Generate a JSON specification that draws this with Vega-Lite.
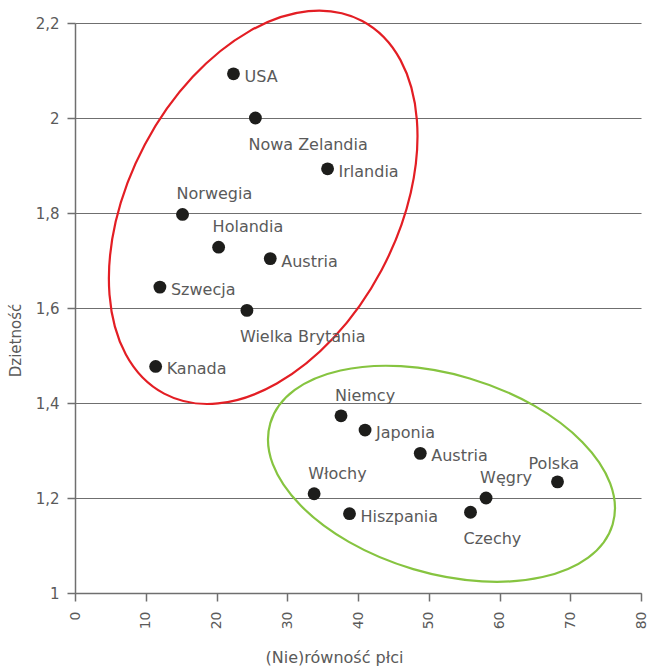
{
  "$schema": "https://vega.github.io/schema/vega-lite/v6.json",
  "width": 566,
  "height": 570,
  "autosize": {"type": "none"},
  "padding": {"left": 75, "top": 23, "right": 6, "bottom": 76},
  "background": "white",
  "config": {
    "view": {"stroke": null},
    "axis": {
      "domainColor": "#6f6f6f", "domainWidth": 1.5,
      "tickColor": "#6f6f6f", "tickWidth": 1.5, "tickSize": 8,
      "gridColor": "#6f6f6f", "gridWidth": 1.2,
      "labelFont": "DejaVu Sans", "labelFontSize": 15, "labelColor": "#5a5a5a",
      "titleFont": "DejaVu Sans", "titleFontSize": 15, "titleFontWeight": "normal", "titleColor": "#5a5a5a"
    }
  },
  "datasets": {
    "points": [
      {"country": "USA", "group": "A", "ineq": 22.4, "fert": 2.093},
      {"country": "Nowa Zelandia", "group": "A", "ineq": 25.5, "fert": 2.0},
      {"country": "Irlandia", "group": "A", "ineq": 35.7, "fert": 1.893},
      {"country": "Norwegia", "group": "A", "ineq": 15.2, "fert": 1.797},
      {"country": "Holandia", "group": "A", "ineq": 20.3, "fert": 1.728},
      {"country": "Austria", "group": "A", "ineq": 27.6, "fert": 1.704},
      {"country": "Szwecja", "group": "A", "ineq": 12.0, "fert": 1.644},
      {"country": "Wielka Brytania", "group": "A", "ineq": 24.3, "fert": 1.595},
      {"country": "Kanada", "group": "A", "ineq": 11.4, "fert": 1.477},
      {"country": "Niemcy", "group": "B", "ineq": 37.6, "fert": 1.373},
      {"country": "Japonia", "group": "B", "ineq": 41.0, "fert": 1.343},
      {"country": "Austria", "group": "B", "ineq": 48.8, "fert": 1.294},
      {"country": "Włochy", "group": "B", "ineq": 33.8, "fert": 1.209},
      {"country": "Hiszpania", "group": "B", "ineq": 38.8, "fert": 1.167},
      {"country": "Czechy", "group": "B", "ineq": 55.9, "fert": 1.170},
      {"country": "Węgry", "group": "B", "ineq": 58.1, "fert": 1.2},
      {"country": "Polska", "group": "B", "ineq": 68.2, "fert": 1.234}
    ],
    "ellipses": [
      {"group": "A", "ineq": 26.6, "fert": 1.812},
      {"group": "B", "ineq": 51.8, "fert": 1.251}
    ]
  },
  "encoding": {
    "x": {
      "field": "ineq", "type": "quantitative",
      "scale": {"domain": [0, 80], "nice": false},
      "axis": {"values": [0, 10, 20, 30, 40, 50, 60, 70, 80], "labelAngle": -90, "labelFontSize": 14, "grid": false, "title": "(Nie)równość płci", "titleFontSize": 16, "titleX": 259, "labelPadding": 10, "titlePadding": 21}
    },
    "y": {
      "field": "fert", "type": "quantitative",
      "scale": {"domain": [1, 2.2], "nice": false, "zero": false},
      "axis": {"values": [1, 1.2, 1.4, 1.6, 1.8, 2, 2.2], "grid": true, "labelExpr": "replace(format(datum.value, '.1~f'), '.', ',')", "title": "Dzietność", "titleY": 317, "labelPadding": 8, "titlePadding": 12}
    }
  },
  "layer": [
    {
      "data": {"name": "ellipses"},
      "transform": [{"filter": "datum.group === 'A'"}],
      "mark": {"type": "point", "filled": false, "color": "#e31e24", "opacity": 1, "strokeWidth": 2.2, "size": 178084, "angle": 28,
        "shape": "M0,-1C0.3507,-1,0.635,-0.5523,0.635,0C0.635,0.5523,0.3507,1,0,1C-0.3507,1,-0.635,0.5523,-0.635,0C-0.635,-0.5523,-0.3507,-1,0,-1Z"}
    },
    {
      "data": {"name": "ellipses"},
      "transform": [{"filter": "datum.group === 'B'"}],
      "mark": {"type": "point", "filled": false, "color": "#86c440", "opacity": 1, "strokeWidth": 2.2, "size": 127449, "angle": 16.5,
        "shape": "M-1,0C-1,-0.3078,-0.5523,-0.557,0,-0.557C0.5523,-0.557,1,-0.3078,1,0C1,0.3078,0.5523,0.557,0,0.557C-0.5523,0.557,-1,0.3078,-1,0Z"}
    },
    {
      "data": {"name": "points"},
      "mark": {"type": "circle", "size": 165, "color": "#1d1d1b", "opacity": 1}
    },
    {
      "data": {"name": "points"},
      "transform": [{"filter": {"field": "country", "oneOf": ["USA", "Irlandia", "Austria", "Szwecja", "Kanada", "Japonia", "Hiszpania"]}}],
      "mark": {"type": "text", "align": "left", "baseline": "middle", "dx": 11, "dy": 3, "font": "DejaVu Sans", "fontSize": 16, "color": "#5a5a5a"},
      "encoding": {"text": {"field": "country"}}
    },
    {
      "data": {"name": "points"},
      "transform": [{"filter": {"field": "country", "oneOf": ["Norwegia", "Holandia", "Niemcy", "Węgry", "Włochy"]}}],
      "mark": {"type": "text", "align": "left", "baseline": "middle", "dx": -6, "dy": -20, "font": "DejaVu Sans", "fontSize": 16, "color": "#5a5a5a"},
      "encoding": {"text": {"field": "country"}}
    },
    {
      "data": {"name": "points"},
      "transform": [{"filter": {"field": "country", "oneOf": ["Nowa Zelandia", "Wielka Brytania", "Czechy"]}}],
      "mark": {"type": "text", "align": "left", "baseline": "middle", "dx": -7, "dy": 27, "font": "DejaVu Sans", "fontSize": 16, "color": "#5a5a5a"},
      "encoding": {"text": {"field": "country"}}
    },
    {
      "data": {"name": "points"},
      "transform": [{"filter": {"field": "country", "oneOf": ["Polska"]}}],
      "mark": {"type": "text", "align": "left", "baseline": "middle", "dx": -29, "dy": -18, "font": "DejaVu Sans", "fontSize": 16, "color": "#5a5a5a"},
      "encoding": {"text": {"field": "country"}}
    }
  ]
}
